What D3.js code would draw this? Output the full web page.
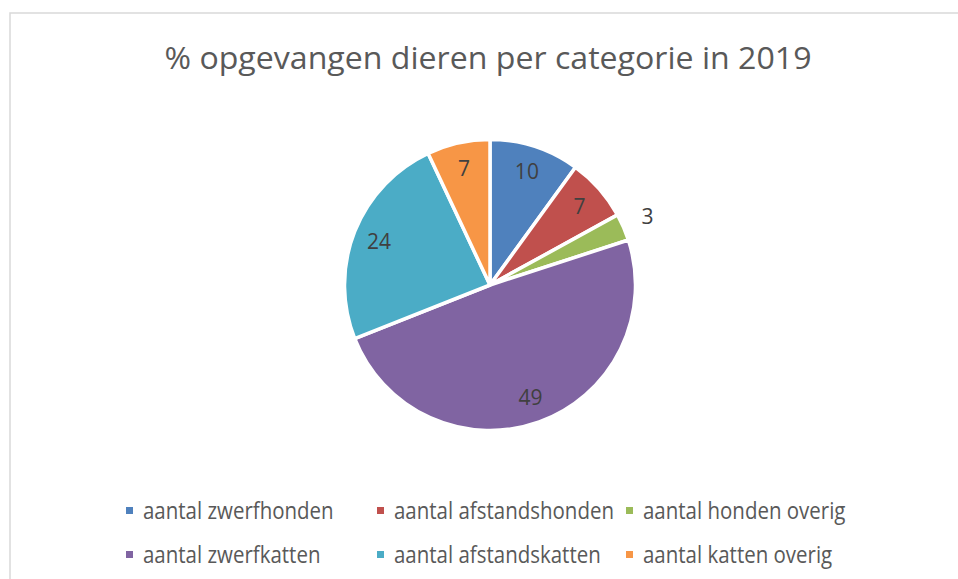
<!DOCTYPE html>
<html>
<head>
<meta charset="utf-8">
<script src="https://cdn.jsdelivr.net/npm/d3@7"></script>
<style>
  html, body { margin: 0; padding: 0; background: #fff; }
  svg { display: block; }
</style>
</head>
<body>
<div id="chart"></div>
<script>
// data
var categories = ["aantal zwerfhonden", "aantal afstandshonden", "aantal honden overig",
                  "aantal zwerfkatten", "aantal afstandskatten", "aantal katten overig"];
var values = [10, 7, 3, 49, 24, 7];
var colors = ["#4F81BD", "#C0504D", "#9BBB59", "#8064A2", "#4BACC6", "#F79646"];
var title = "% opgevangen dieren per categorie in 2019";

var width = 958, height = 579;
var fontFam = "'Open Sans', 'Noto Sans', sans-serif";

var svg = d3.select("#chart")
  .append("svg")
    .attr("width", width)
    .attr("height", height);

// chart area border
svg.append("rect")
    .attr("x", 10)
    .attr("y", 13)
    .attr("width", 960)
    .attr("height", 700)
    .attr("fill", "#fff")
    .attr("stroke", "#d9d9d9")
    .attr("stroke-width", 1.5);

// title
svg.append("text")
    .attr("x", 488)
    .attr("y", 69)
    .attr("text-anchor", "middle")
    .attr("font-family", fontFam)
    .attr("font-size", "31px")
    .attr("fill", "#595959")
    .attr("textLength", 647)
    .attr("lengthAdjust", "spacingAndGlyphs")
    .text(title);

// pie
var cx = 490, cy = 285, radius = 145.5;
var pie = d3.pie().sort(null).value(function(d) { return d; });
var arcs = pie(values);
var arc = d3.arc().innerRadius(0).outerRadius(radius);

var g = svg.append("g")
    .attr("transform", "translate(" + cx + "," + cy + ")");

g.selectAll("path")
    .data(arcs)
    .enter()
    .append("path")
      .attr("d", arc)
      .attr("fill", function(d, i) { return colors[i]; })
      .attr("stroke", "#fff")
      .attr("stroke-width", 3.5)
      .attr("stroke-linejoin", "round");

// data labels: inside for big slices, just outside for tiny ones
g.selectAll("text.lbl")
    .data(arcs)
    .enter()
    .append("text")
      .attr("class", "lbl")
      .attr("transform", function(d) {
        var r = d.data < 5 ? radius + 26 : radius * 0.82;
        var a = (d.startAngle + d.endAngle) / 2;
        return "translate(" + (r * Math.sin(a)) + "," + (-r * Math.cos(a)) + ")";
      })
      .attr("text-anchor", "middle")
      .attr("dy", "0.36em")
      .attr("font-family", fontFam)
      .attr("font-size", "21px")
      .attr("fill", "#404040")
      .text(function(d) { return d.data; });

// legend, 3 columns x 2 rows
var colX = [126, 377, 626];
var rowY = [519, 563];
var leg = svg.append("g");
var items = leg.selectAll("g")
    .data(categories)
    .enter()
    .append("g")
      .attr("transform", function(d, i) {
        return "translate(" + colX[i % 3] + "," + rowY[Math.floor(i / 3)] + ")";
      });

items.append("rect")
    .attr("x", 0)
    .attr("y", -12)
    .attr("width", 7)
    .attr("height", 7)
    .attr("fill", function(d, i) { return colors[i]; });

items.append("text")
    .attr("x", 17)
    .attr("y", 0)
    .attr("font-family", fontFam)
    .attr("font-size", "23px")
    .attr("fill", "#595959")
    .text(function(d) { return d; })
    .each(function() {
      // squeeze to a Calibri-like width
      var w = this.getComputedTextLength();
      d3.select(this)
        .attr("textLength", w * 0.89)
        .attr("lengthAdjust", "spacingAndGlyphs");
    });
</script>
</body>
</html>
